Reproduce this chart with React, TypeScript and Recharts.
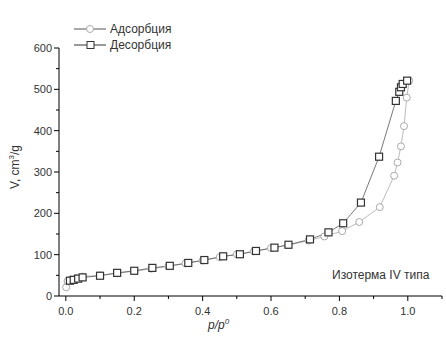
import { LineChart, Line, XAxis, YAxis, Legend } from "recharts";

const adsX = [0.001, 0.005, 0.015, 0.03, 0.05, 0.1, 0.15, 0.2, 0.25, 0.3, 0.35, 0.4, 0.45, 0.5, 0.55, 0.6, 0.65, 0.71, 0.756, 0.808, 0.858, 0.918, 0.96, 0.97, 0.98, 0.989, 0.997, 1.004];
const adsV = [21, 36, 40, 43, 47, 50, 55, 60, 66, 72, 79, 86, 94, 101, 108, 116, 123, 134, 144, 157, 179, 215, 291, 323, 362, 411, 480, 521];

const desX = [0.012, 0.023, 0.036, 0.049, 0.1, 0.15, 0.2, 0.253, 0.304, 0.358, 0.405, 0.46, 0.509, 0.556, 0.61, 0.651, 0.714, 0.768, 0.811, 0.863, 0.916, 0.965, 0.975, 0.98, 0.985, 0.998];
const desV = [37, 39, 42, 45, 49, 56, 61, 68, 73, 80, 87, 96, 101, 109, 117, 124, 137, 154, 176, 226, 337, 472, 494, 505, 513, 521];

const xTicks = [0, 0.1, 0.2, 0.3, 0.4, 0.5, 0.6, 0.7, 0.8, 0.9, 1.0, 1.1];
const xLabels = ["0.0", "", "0.2", "", "0.4", "", "0.6", "", "0.8", "", "1.0", ""];
const yTicks = [0, 50, 100, 150, 200, 250, 300, 350, 400, 450, 500, 550, 600];
const yLabels = ["0", "", "100", "", "200", "", "300", "", "400", "", "500", "", "600"];

const adsData = adsX.map((x, i) => ({ x, v: adsV[i] }));
const desData = desX.map((x, i) => ({ x, v: desV[i] }));

const font = "'Liberation Sans', Arial, sans-serif";
const textColor = "#333";

function XTick(props: any) {
  const { x, y, index } = props;
  const label = xLabels[index];
  return (
    <g>
      <line x1={x} y1={y} x2={x} y2={y + (label ? 5 : 3)} stroke="#000" />
      {label && (
        <text x={x} y={y + 19} textAnchor="middle" fontSize={11} fill={textColor} fontFamily={font}>
          {label}
        </text>
      )}
    </g>
  );
}

function YTick(props: any) {
  const { x, y, index } = props;
  const label = yLabels[index];
  return (
    <g>
      <line x1={x} y1={y} x2={x - (label ? 5 : 3)} y2={y} stroke="#000" />
      {label && (
        <text x={x - 7} y={y + 4} textAnchor="end" fontSize={11} fill={textColor} fontFamily={font}>
          {label}
        </text>
      )}
    </g>
  );
}

function CircleDot(props: any) {
  const { cx, cy } = props;
  return <circle cx={cx} cy={cy} r={3.5} fill="#fff" stroke="#aaa" strokeWidth={1} />;
}

function SquareDot(props: any) {
  const { cx, cy } = props;
  return <rect x={cx - 3.5} y={cy - 3.5} width={7} height={7} fill="#fff" stroke="#333" strokeWidth={1.2} />;
}

function LegendBox() {
  const row = (name: string, square: boolean, color: string, lineColor: string) => (
    <div style={{ display: "flex", alignItems: "center", height: 16 }}>
      <svg width={32} height={10}>
        <line x1={0} y1={5} x2={32} y2={5} stroke={lineColor} />
        {square ? (
          <rect x={13} y={1.5} width={7} height={7} fill="#fff" stroke={color} />
        ) : (
          <circle cx={16} cy={5} r={3.5} fill="#fff" stroke={color} />
        )}
      </svg>
      <span style={{ marginLeft: 4, fontSize: 12, color: textColor, fontFamily: font }}>{name}</span>
    </div>
  );
  return (
    <div>
      {row("Адсорбция", false, "#aaa", "#555")}
      {row("Десорбция", true, "#333", "#333")}
    </div>
  );
}

export default function App() {
  return (
    <div style={{ position: "absolute", left: 0, top: 0, width: 446, height: 341, background: "#fff" }}>
      <LineChart width={446} height={341} margin={{ top: 16, right: 4, bottom: 15, left: 0 }}>
        <XAxis
          type="number"
          dataKey="x"
          domain={[-0.02, 1.1]}
          ticks={xTicks}
          interval={0}
          allowDataOverflow
          tickSize={0}
          tickMargin={0}
          tick={<XTick />}
          axisLine={{ stroke: "#000" }}
          height={30}
        />
        <YAxis
          type="number"
          dataKey="v"
          domain={[0, 600]}
          ticks={yTicks}
          interval={0}
          allowDataOverflow
          tickSize={0}
          tickMargin={0}
          tick={<YTick />}
          axisLine={{ stroke: "#000" }}
          width={59}
        />
        <Legend
          verticalAlign="top"
          align="left"
          content={() => <LegendBox />}
          wrapperStyle={{ position: "absolute", left: 74, top: 21, width: 150 }}
        />
        <Line
          data={adsData}
          dataKey="v"
          name="Адсорбция"
          type="linear"
          stroke="#aaa"
          strokeWidth={0.8}
          dot={<CircleDot />}
          isAnimationActive={false}
        />
        <Line
          data={desData}
          dataKey="v"
          name="Десорбция"
          type="linear"
          stroke="#555"
          strokeWidth={0.8}
          dot={<SquareDot />}
          isAnimationActive={false}
        />
      </LineChart>
      <div
        style={{
          position: "absolute",
          left: 5,
          top: 167,
          transform: "translate(-50%, -50%) rotate(-90deg)",
          transformOrigin: "center",
          marginLeft: 9,
          fontSize: 12,
          color: textColor,
          fontFamily: font,
          whiteSpace: "nowrap",
        }}
      >
        V, cm<sup style={{ fontSize: 8 }}>3</sup>/g
      </div>
      <div
        style={{
          position: "absolute",
          left: 208,
          top: 317,
          fontSize: 12,
          fontStyle: "italic",
          color: textColor,
          fontFamily: font,
          whiteSpace: "nowrap",
        }}
      >
        p/p<sup style={{ fontSize: 8 }}>0</sup>
      </div>
      <div
        style={{
          position: "absolute",
          left: 332,
          top: 268,
          fontSize: 12,
          color: textColor,
          fontFamily: font,
          whiteSpace: "nowrap",
        }}
      >
        Изотерма IV типа
      </div>
    </div>
  );
}
